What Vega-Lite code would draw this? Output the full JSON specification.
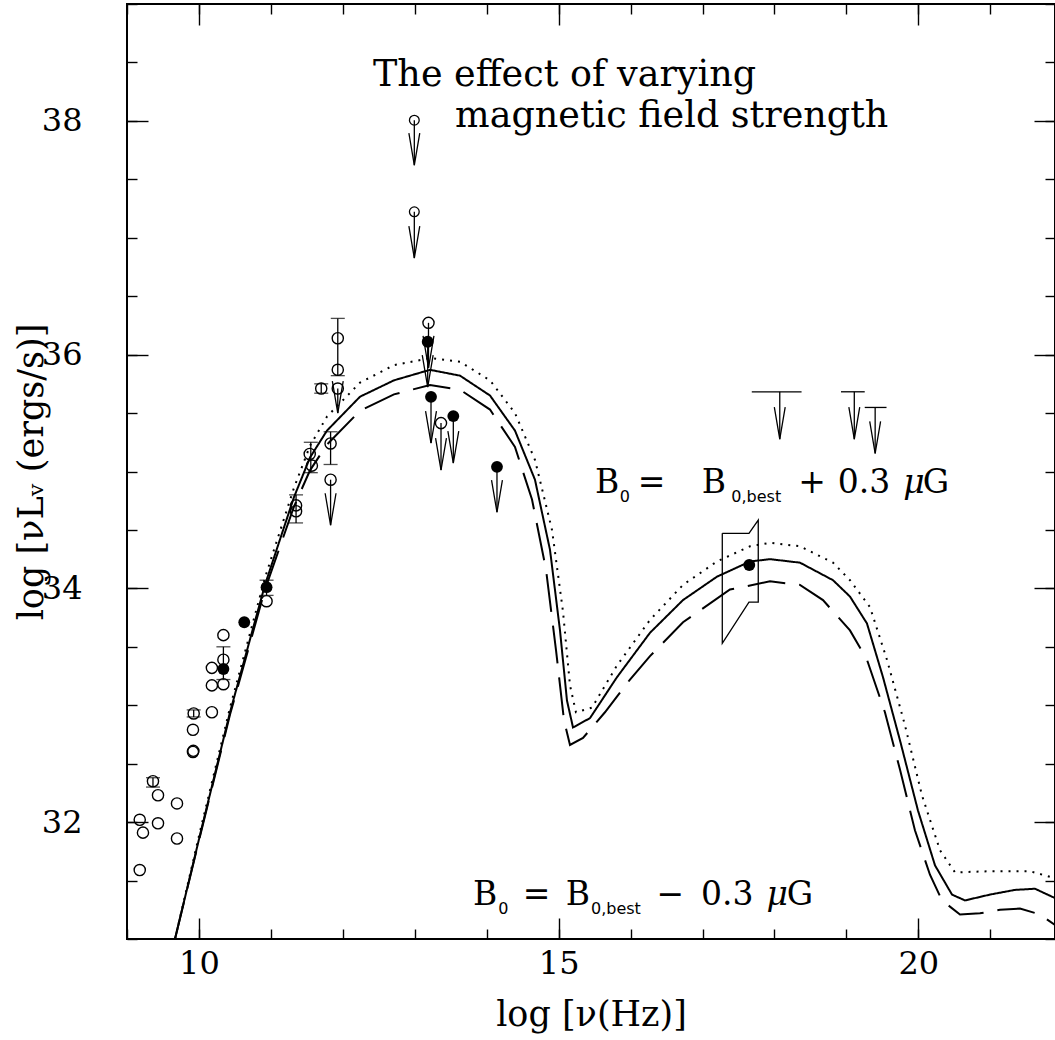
{
  "$schema": "https://vega.github.io/schema/vega-lite/v6.json",
  "width": 928,
  "height": 935,
  "autosize": "none",
  "padding": {"left": 127, "top": 4, "right": 0, "bottom": 101},
  "background": "white",
  "config": {
    "view": {"stroke": "black", "strokeWidth": 2},
    "axis": {"domain": false, "grid": false, "labelFont": "DejaVu Serif", "titleFont": "DejaVu Serif", "tickColor": "black", "labelColor": "black", "titleColor": "black", "titleFontWeight": "normal", "tickWidth": 1.4, "labelFlush": false, "labelOverlap": false}
  },
  "datasets": {
    "curves": [
      {"m":"best","o":1,"x":9.667,"y":31.0},{"m":"best","o":2,"x":10.015,"y":31.89},{"m":"best","o":3,"x":10.432,"y":32.94},{"m":"best","o":4,"x":10.918,"y":34.03},{"m":"best","o":5,"x":11.321,"y":34.78},{"m":"best","o":6,"x":11.544,"y":35.12},{"m":"best","o":7,"x":11.78,"y":35.35},{"m":"best","o":8,"x":12.239,"y":35.64},{"m":"best","o":9,"x":12.711,"y":35.78},{"m":"best","o":10,"x":13.212,"y":35.87},{"m":"best","o":11,"x":13.629,"y":35.82},{"m":"best","o":12,"x":14.046,"y":35.65},{"m":"best","o":13,"x":14.393,"y":35.35},{"m":"best","o":14,"x":14.671,"y":34.93},{"m":"best","o":15,"x":14.88,"y":34.33},{"m":"best","o":16,"x":15.019,"y":33.64},{"m":"best","o":17,"x":15.116,"y":33.04},{"m":"best","o":18,"x":15.2,"y":32.81},{"m":"best","o":19,"x":15.436,"y":32.89},{"m":"best","o":20,"x":15.811,"y":33.24},{"m":"best","o":21,"x":16.27,"y":33.62},{"m":"best","o":22,"x":16.729,"y":33.9},{"m":"best","o":23,"x":17.201,"y":34.1},{"m":"best","o":24,"x":17.66,"y":34.23},{"m":"best","o":25,"x":17.938,"y":34.25},{"m":"best","o":26,"x":18.355,"y":34.22},{"m":"best","o":27,"x":18.814,"y":34.07},{"m":"best","o":28,"x":19.05,"y":33.93},{"m":"best","o":29,"x":19.286,"y":33.7},{"m":"best","o":30,"x":19.509,"y":33.24},{"m":"best","o":31,"x":19.745,"y":32.7},{"m":"best","o":32,"x":19.995,"y":32.1},{"m":"best","o":33,"x":20.232,"y":31.63},{"m":"best","o":34,"x":20.468,"y":31.38},{"m":"best","o":35,"x":20.649,"y":31.33},{"m":"best","o":36,"x":20.996,"y":31.38},{"m":"best","o":37,"x":21.343,"y":31.42},{"m":"best","o":38,"x":21.622,"y":31.43},{"m":"best","o":39,"x":21.9,"y":31.35},
      {"m":"plus","o":1,"x":9.667,"y":31.0},{"m":"plus","o":2,"x":10.015,"y":31.92},{"m":"plus","o":3,"x":10.432,"y":32.98},{"m":"plus","o":4,"x":10.918,"y":34.09},{"m":"plus","o":5,"x":11.321,"y":34.86},{"m":"plus","o":6,"x":11.544,"y":35.22},{"m":"plus","o":7,"x":11.78,"y":35.47},{"m":"plus","o":8,"x":12.239,"y":35.76},{"m":"plus","o":9,"x":12.711,"y":35.91},{"m":"plus","o":10,"x":13.212,"y":35.97},{"m":"plus","o":11,"x":13.629,"y":35.94},{"m":"plus","o":12,"x":14.046,"y":35.78},{"m":"plus","o":13,"x":14.393,"y":35.5},{"m":"plus","o":14,"x":14.671,"y":35.1},{"m":"plus","o":15,"x":14.908,"y":34.5},{"m":"plus","o":16,"x":15.061,"y":33.8},{"m":"plus","o":17,"x":15.158,"y":33.17},{"m":"plus","o":18,"x":15.241,"y":32.94},{"m":"plus","o":19,"x":15.464,"y":32.98},{"m":"plus","o":20,"x":15.811,"y":33.34},{"m":"plus","o":21,"x":16.27,"y":33.73},{"m":"plus","o":22,"x":16.729,"y":34.03},{"m":"plus","o":23,"x":17.201,"y":34.23},{"m":"plus","o":24,"x":17.66,"y":34.36},{"m":"plus","o":25,"x":17.938,"y":34.39},{"m":"plus","o":26,"x":18.355,"y":34.36},{"m":"plus","o":27,"x":18.814,"y":34.22},{"m":"plus","o":28,"x":19.05,"y":34.07},{"m":"plus","o":29,"x":19.328,"y":33.84},{"m":"plus","o":30,"x":19.564,"y":33.39},{"m":"plus","o":31,"x":19.814,"y":32.83},{"m":"plus","o":32,"x":20.05,"y":32.23},{"m":"plus","o":33,"x":20.301,"y":31.76},{"m":"plus","o":34,"x":20.51,"y":31.57},{"m":"plus","o":35,"x":20.996,"y":31.58},{"m":"plus","o":36,"x":21.552,"y":31.58},{"m":"plus","o":37,"x":21.9,"y":31.52},
      {"m":"minus","o":1,"x":9.667,"y":31.0},{"m":"minus","o":2,"x":10.015,"y":31.88},{"m":"minus","o":3,"x":10.432,"y":32.92},{"m":"minus","o":4,"x":10.918,"y":33.99},{"m":"minus","o":5,"x":11.321,"y":34.7},{"m":"minus","o":6,"x":11.544,"y":35.01},{"m":"minus","o":7,"x":11.78,"y":35.23},{"m":"minus","o":8,"x":12.239,"y":35.52},{"m":"minus","o":9,"x":12.711,"y":35.66},{"m":"minus","o":10,"x":13.212,"y":35.74},{"m":"minus","o":11,"x":13.629,"y":35.7},{"m":"minus","o":12,"x":14.046,"y":35.53},{"m":"minus","o":13,"x":14.393,"y":35.21},{"m":"minus","o":14,"x":14.63,"y":34.76},{"m":"minus","o":15,"x":14.825,"y":34.16},{"m":"minus","o":16,"x":14.964,"y":33.47},{"m":"minus","o":17,"x":15.075,"y":32.87},{"m":"minus","o":18,"x":15.158,"y":32.66},{"m":"minus","o":19,"x":15.339,"y":32.72},{"m":"minus","o":20,"x":15.644,"y":32.94},{"m":"minus","o":21,"x":15.992,"y":33.22},{"m":"minus","o":22,"x":16.27,"y":33.42},{"m":"minus","o":23,"x":16.729,"y":33.71},{"m":"minus","o":24,"x":17.382,"y":33.99},{"m":"minus","o":25,"x":17.938,"y":34.06},{"m":"minus","o":26,"x":18.355,"y":34.03},{"m":"minus","o":27,"x":18.675,"y":33.9},{"m":"minus","o":28,"x":19.05,"y":33.64},{"m":"minus","o":29,"x":19.286,"y":33.39},{"m":"minus","o":30,"x":19.536,"y":32.94},{"m":"minus","o":31,"x":19.745,"y":32.45},{"m":"minus","o":32,"x":19.953,"y":31.93},{"m":"minus","o":33,"x":20.162,"y":31.55},{"m":"minus","o":34,"x":20.329,"y":31.33},{"m":"minus","o":35,"x":20.579,"y":31.21},{"m":"minus","o":36,"x":20.857,"y":31.22},{"m":"minus","o":37,"x":21.135,"y":31.25},{"m":"minus","o":38,"x":21.413,"y":31.26},{"m":"minus","o":39,"x":21.691,"y":31.21},{"m":"minus","o":40,"x":21.9,"y":31.12}
    ],
    "bowtie": [
      {"o":1,"x":17.275,"y":34.471},{"o":2,"x":17.646,"y":34.471},{"o":3,"x":17.775,"y":34.584},{"o":4,"x":17.775,"y":33.883},{"o":5,"x":17.646,"y":33.883},{"o":6,"x":17.275,"y":33.53},{"o":7,"x":17.275,"y":34.471}
    ],
    "errbars": [
      {"x":9.361,"lo":32.30,"hi":32.38},{"x":9.927,"lo":32.90,"hi":32.96},{"x":10.34,"lo":33.22,"hi":33.50},{"x":10.94,"lo":33.94,"hi":34.07},{"x":11.35,"lo":34.56,"hi":34.80},{"x":11.555,"lo":34.99,"hi":35.25},{"x":11.70,"lo":35.67,"hi":35.75},{"x":11.93,"lo":35.82,"hi":36.31},{"x":11.83,"lo":35.06,"hi":35.34}
    ],
    "limits": [
      {"x":12.994,"y":38.006,"tip":37.621},{"x":12.994,"y":37.222,"tip":36.826},{"x":13.191,"y":36.272,"tip":35.887},{"x":13.18,"y":36.11,"tip":35.722},{"x":13.226,"y":35.639,"tip":35.243},{"x":13.365,"y":35.414,"tip":35.012},{"x":13.536,"y":35.474,"tip":35.072},{"x":14.143,"y":35.04,"tip":34.652},{"x":11.93,"y":35.71,"tip":35.50},{"x":11.83,"y":34.93,"tip":34.54},{"x":18.074,"y":35.682,"tip":35.277},{"x":19.11,"y":35.682,"tip":35.277},{"x":19.40,"y":35.548,"tip":35.155}
    ],
    "xbars": [
      {"x1":17.685,"x2":18.377,"y":35.682},{"x1":18.925,"x2":19.255,"y":35.682},{"x1":19.255,"x2":19.558,"y":35.548}
    ],
    "open": [
      {"x":9.177,"y":32.02},{"x":9.222,"y":31.91},{"x":9.177,"y":31.59},{"x":9.431,"y":31.99},{"x":9.431,"y":32.23},{"x":9.361,"y":32.35},{"x":9.695,"y":32.16},{"x":9.695,"y":31.86},{"x":9.927,"y":32.93},{"x":9.917,"y":32.79},{"x":9.917,"y":32.60},{"x":9.922,"y":32.61},{"x":10.18,"y":33.32},{"x":10.18,"y":33.17},{"x":10.18,"y":32.94},{"x":10.34,"y":33.60},{"x":10.34,"y":33.39},{"x":10.34,"y":33.18},{"x":10.94,"y":33.89},{"x":11.35,"y":34.71},{"x":11.35,"y":34.66},{"x":11.54,"y":35.15},{"x":11.57,"y":35.05},{"x":11.70,"y":35.71},{"x":11.93,"y":36.14},{"x":11.93,"y":35.87},{"x":11.93,"y":35.71},{"x":11.83,"y":35.24},{"x":11.83,"y":34.93},{"x":13.191,"y":36.272},{"x":13.365,"y":35.414}
    ],
    "opensmall": [
      {"x":12.994,"y":38.006},{"x":12.994,"y":37.222}
    ],
    "filled": [
      {"x":10.34,"y":33.31},{"x":10.63,"y":33.71},{"x":10.94,"y":34.01},{"x":13.18,"y":36.11},{"x":13.226,"y":35.639},{"x":13.536,"y":35.474},{"x":14.143,"y":35.04},{"x":17.65,"y":34.20}
    ],
    "texts": [
      {"k":"title","t":"The effect of varying","x":12.42,"y":38.30},
      {"k":"title","t":"magnetic field strength","x":13.56,"y":37.95},
      {"k":"main","t":"B","x":15.505,"y":34.815},
      {"k":"sub","t":"0","x":15.85,"y":34.74},
      {"k":"main","t":"=","x":16.10,"y":34.815},
      {"k":"main","t":"B","x":16.99,"y":34.815},
      {"k":"sub","t":"0,best","x":17.40,"y":34.74},
      {"k":"main","t":"+","x":18.33,"y":34.815},
      {"k":"main","t":"0.3","x":18.88,"y":34.815},
      {"k":"mu","t":"μ","x":19.79,"y":34.815},
      {"k":"main","t":"G","x":20.06,"y":34.815},
      {"k":"main","t":"B","x":13.81,"y":31.29},
      {"k":"sub","t":"0","x":14.16,"y":31.215},
      {"k":"main","t":"=","x":14.50,"y":31.29},
      {"k":"main","t":"B","x":15.10,"y":31.29},
      {"k":"sub","t":"0,best","x":15.45,"y":31.215},
      {"k":"main","t":"−","x":16.36,"y":31.29},
      {"k":"main","t":"0.3","x":16.98,"y":31.29},
      {"k":"mu","t":"μ","x":17.89,"y":31.29},
      {"k":"main","t":"G","x":18.17,"y":31.29}
    ]
  },
  "layer": [
    {
      "data": {"name": "curves"},
      "mark": {"type": "line", "color": "black", "strokeWidth": 2, "clip": true},
      "encoding": {
        "x": {"field": "x", "type": "quantitative", "scale": {"domain": [9, 21.9], "nice": false, "zero": false},
              "axis": {"orient": "bottom", "values": [10, 15, 20], "tickSize": -21, "labelFontSize": 32, "labelPadding": 30, "title": "log [ν(Hz)]", "titleFontSize": 35, "titleY": 75, "titleBaseline": "middle"}},
        "y": {"field": "y", "type": "quantitative", "scale": {"domain": [31, 39], "nice": false, "zero": false},
              "axis": {"orient": "left", "values": [32, 34, 36, 38], "tickSize": -21, "labelFontSize": 32, "labelPadding": 66, "title": "log [νLᵥ (ergs/s)]", "titleFontSize": 35, "titleX": -96, "titleBaseline": "middle", "titleAngle": 270}},
        "detail": {"field": "m"},
        "order": {"field": "o", "type": "quantitative"},
        "strokeDash": {"field": "m", "type": "nominal", "scale": {"domain": ["plus", "best", "minus"], "range": [[2, 6], [1, 0], [38, 14]]}, "legend": null}
      }
    },
    {
      "data": {"name": "errbars"},
      "mark": {"type": "rule", "color": "black", "strokeWidth": 1.3},
      "encoding": {
        "x": {"field": "x", "type": "quantitative", "scale": {"domain": [9, 21.9], "nice": false, "zero": false},
              "axis": {"orient": "top", "values": [10, 15, 20], "tickSize": -21, "labels": false, "title": null}},
        "y": {"field": "lo", "type": "quantitative", "scale": {"domain": [31, 39], "nice": false, "zero": false},
              "axis": {"orient": "right", "values": [32, 34, 36, 38], "tickSize": -21, "labels": false, "title": null}},
        "y2": {"field": "hi"}
      }
    },
    {
      "data": {"name": "bowtie"},
      "mark": {"type": "line", "color": "black", "strokeWidth": 1.3},
      "encoding": {
        "x": {"field": "x", "type": "quantitative", "scale": {"domain": [9, 21.9], "nice": false, "zero": false},
              "axis": {"orient": "bottom", "values": [9,10,11,12,13,14,15,16,17,18,19,20,21,22], "tickSize": -10, "labels": false, "title": null}},
        "y": {"field": "y", "type": "quantitative", "scale": {"domain": [31, 39], "nice": false, "zero": false},
              "axis": {"orient": "left", "values": [31,31.5,32,32.5,33,33.5,34,34.5,35,35.5,36,36.5,37,37.5,38,38.5,39], "tickSize": -10, "labels": false, "title": null}},
        "order": {"field": "o", "type": "quantitative"}
      }
    },
    {
      "data": {"name": "errbars"},
      "transform": [{"fold": ["lo", "hi"], "as": ["k", "v"]}],
      "mark": {"type": "tick", "orient": "horizontal", "size": 14, "thickness": 1.3, "color": "black"},
      "encoding": {
        "x": {"field": "x", "type": "quantitative", "scale": {"domain": [9, 21.9], "nice": false, "zero": false},
              "axis": {"orient": "top", "values": [9,10,11,12,13,14,15,16,17,18,19,20,21,22], "tickSize": -10, "labels": false, "title": null}},
        "y": {"field": "v", "type": "quantitative", "scale": {"domain": [31, 39], "nice": false, "zero": false},
              "axis": {"orient": "right", "values": [31,31.5,32,32.5,33,33.5,34,34.5,35,35.5,36,36.5,37,37.5,38,38.5,39], "tickSize": -10, "labels": false, "title": null}}
      }
    },
    {
      "data": {"name": "limits"},
      "mark": {"type": "rule", "color": "black", "strokeWidth": 1.3},
      "encoding": {
        "x": {"field": "x", "type": "quantitative", "axis": null},
        "y": {"field": "y", "type": "quantitative", "axis": null},
        "y2": {"field": "tip"}
      }
    },
    {
      "data": {"name": "limits"},
      "mark": {"type": "point", "shape": "M-0.34,-2L0,0L0.34,-2", "size": 1024, "filled": false, "color": "black", "strokeWidth": 1.3, "opacity": 1},
      "encoding": {
        "x": {"field": "x", "type": "quantitative", "axis": null},
        "y": {"field": "tip", "type": "quantitative", "axis": null}
      }
    },
    {
      "data": {"name": "xbars"},
      "mark": {"type": "rule", "color": "black", "strokeWidth": 1.3},
      "encoding": {
        "x": {"field": "x1", "type": "quantitative", "axis": null},
        "x2": {"field": "x2"},
        "y": {"field": "y", "type": "quantitative", "axis": null}
      }
    },
    {
      "data": {"name": "open"},
      "mark": {"type": "point", "shape": "circle", "size": 125, "filled": false, "color": "black", "strokeWidth": 1.4, "opacity": 1},
      "encoding": {
        "x": {"field": "x", "type": "quantitative", "axis": null},
        "y": {"field": "y", "type": "quantitative", "axis": null}
      }
    },
    {
      "data": {"name": "opensmall"},
      "mark": {"type": "point", "shape": "circle", "size": 95, "filled": false, "color": "black", "strokeWidth": 1.3, "opacity": 1},
      "encoding": {
        "x": {"field": "x", "type": "quantitative", "axis": null},
        "y": {"field": "y", "type": "quantitative", "axis": null}
      }
    },
    {
      "data": {"name": "filled"},
      "mark": {"type": "point", "shape": "circle", "size": 140, "filled": true, "color": "black", "opacity": 1},
      "encoding": {
        "x": {"field": "x", "type": "quantitative", "axis": null},
        "y": {"field": "y", "type": "quantitative", "axis": null}
      }
    },
    {
      "data": {"name": "texts"},
      "transform": [{"filter": "datum.k === 'title'"}],
      "mark": {"type": "text", "align": "left", "baseline": "alphabetic", "font": "DejaVu Serif", "fontSize": 36.5, "color": "black"},
      "encoding": {
        "x": {"field": "x", "type": "quantitative", "axis": null},
        "y": {"field": "y", "type": "quantitative", "axis": null},
        "text": {"field": "t"}
      }
    },
    {
      "data": {"name": "texts"},
      "transform": [{"filter": "datum.k === 'main'"}],
      "mark": {"type": "text", "align": "left", "baseline": "alphabetic", "font": "DejaVu Serif", "fontSize": 33, "color": "black"},
      "encoding": {
        "x": {"field": "x", "type": "quantitative", "axis": null},
        "y": {"field": "y", "type": "quantitative", "axis": null},
        "text": {"field": "t"}
      }
    },
    {
      "data": {"name": "texts"},
      "transform": [{"filter": "datum.k === 'mu'"}],
      "mark": {"type": "text", "align": "left", "baseline": "alphabetic", "font": "DejaVu Serif", "fontStyle": "italic", "fontSize": 33, "color": "black"},
      "encoding": {
        "x": {"field": "x", "type": "quantitative", "axis": null},
        "y": {"field": "y", "type": "quantitative", "axis": null},
        "text": {"field": "t"}
      }
    },
    {
      "data": {"name": "texts"},
      "transform": [{"filter": "datum.k === 'sub'"}],
      "mark": {"type": "text", "align": "left", "baseline": "alphabetic", "font": "DejaVu Sans", "fontSize": 16, "color": "black"},
      "encoding": {
        "x": {"field": "x", "type": "quantitative", "axis": null},
        "y": {"field": "y", "type": "quantitative", "axis": null},
        "text": {"field": "t"}
      }
    }
  ],
  "resolve": {"axis": {"x": "independent", "y": "independent"}}
}
